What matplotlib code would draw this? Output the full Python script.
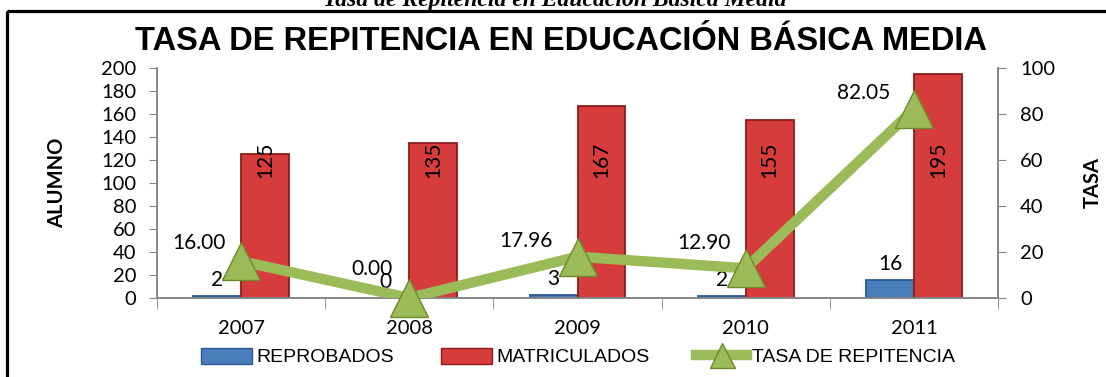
import numpy as np
import matplotlib.pyplot as plt
from matplotlib.patches import Rectangle, Patch
from matplotlib.lines import Line2D

years = ['2007', '2008', '2009', '2010', '2011']
reprobados = [2, 0, 3, 2, 16]
matriculados = [125, 135, 167, 155, 195]
tasa = [16.00, 0.00, 17.96, 12.90, 82.05]

BLUE = '#4A7EBB'
BLUE_EDGE = '#2C5A94'
RED = '#D63C3C'
RED_EDGE = '#8C1C1C'
GREEN = '#9BBB59'
GREEN_EDGE = '#6E8A2F'
GRAY = '#868686'

plt.rcParams['font.family'] = ['Lato', 'DejaVu Sans']
narrow = ['Liberation Sans Narrow', 'Liberation Sans']

W, H = 1106, 377
fig = plt.figure(figsize=(W / 100, H / 100), dpi=100)
ax = fig.add_axes([157 / W, 1 - 298 / H, (998 - 157) / W, (298 - 68) / H])
ax2 = ax.twinx()

x = np.arange(len(years))
bw = 0.285
ax.bar(x - bw / 2, reprobados, bw, color=BLUE, edgecolor=BLUE_EDGE, lw=1.3, zorder=2)
ax.bar(x + bw / 2, matriculados, bw, color=RED, edgecolor=RED_EDGE, lw=1.3, zorder=2)

ax.set_xlim(-0.5, len(years) - 0.5)
ax.set_ylim(0, 200)
ax.set_yticks(range(0, 201, 20))
ax.set_xticks(x)
ax.set_xticklabels(years)
ax.set_xticks(np.arange(-0.5, len(years), 1), minor=True)
ax.tick_params(axis='x', which='major', length=0, pad=16, labelsize=14.5)
ax.tick_params(axis='x', which='minor', length=8, color=GRAY, direction='out')
ax.tick_params(axis='y', length=6, color=GRAY, labelsize=14.5, pad=9)

ax2.set_ylim(0, 100)
ax2.set_yticks(range(0, 101, 20))
ax2.tick_params(axis='y', length=6, color=GRAY, labelsize=14.5, pad=10)

for a in (ax, ax2):
    a.spines['top'].set_visible(False)
    for s in ('left', 'right', 'bottom'):
        a.spines[s].set_color(GRAY)
        a.spines[s].set_linewidth(1.2)
    a.patch.set_visible(False)

ax2.plot(x, tasa, color=GREEN, lw=7.5, solid_capstyle='butt', zorder=3)
ax2.plot(x, tasa, ls='none', marker='^', ms=28, mfc=GREEN, mec=GREEN_EDGE,
         mew=1.0, zorder=4, clip_on=False)

# labels on the blue bars
for xi, v in zip(x, reprobados):
    ax.annotate(str(v), (xi - bw / 2, v), xytext=(0, 4), textcoords='offset points',
                ha='center', va='bottom', fontsize=15, zorder=6)

# labels inside the red bars, rotated
for xi, v in zip(x, matriculados):
    ax.text(xi + bw / 2, 120, str(v), rotation=90, ha='center', va='center',
            fontsize=15, zorder=6)

# rate labels to the upper left of each marker
label_offsets = [(-11, 13), (-12, 21), (-18, 11), (-11, 18), (-17, 12)]
for xi, v, (dx, dy) in zip(x, tasa, label_offsets):
    ax2.annotate(f'{v:.2f}', (xi, v), xytext=(dx, dy), textcoords='offset points',
                 ha='right', va='center', fontsize=15, zorder=6,
                 annotation_clip=False)

ax.set_ylabel('ALUMNO', fontsize=14.5, fontweight='bold', labelpad=24)
ax2.set_ylabel('TASA', fontsize=14.5, fontweight='bold', labelpad=20)

fig.text(561 / W, 1 - 41 / H, 'TASA DE REPITENCIA EN EDUCACIÓN BÁSICA MEDIA',
         family=narrow, fontweight='bold', fontsize=23.5, ha='center', va='center')
fig.text(555 / W, 1 - 6 / H, 'Tasa de Repitencia en Educación Básica Media',
         family=['Liberation Serif'], fontweight='bold', fontstyle='italic',
         fontsize=17, ha='center', va='baseline')

handles = [
    Patch(facecolor=BLUE, edgecolor=BLUE_EDGE),
    Patch(facecolor=RED, edgecolor=RED_EDGE),
    Line2D([], [], color=GREEN, lw=7.5, marker='^', ms=18, mfc=GREEN, mec=GREEN_EDGE),
]
fig.legend(handles, ['REPROBADOS', 'MATRICULADOS', 'TASA DE REPITENCIA'],
           loc='center', bbox_to_anchor=(578 / W, 1 - 357 / H), ncol=3, frameon=False,
           prop={'family': narrow, 'size': 14}, handlelength=2.6, handleheight=0.9,
           handletextpad=0.25, columnspacing=2.4)

fig.add_artist(Rectangle((7 / W, 1 - 11 / H), 2, -2, transform=fig.transFigure,
                         fill=False, ec='black', lw=2.3))

fig.savefig('out.png', dpi=100)
